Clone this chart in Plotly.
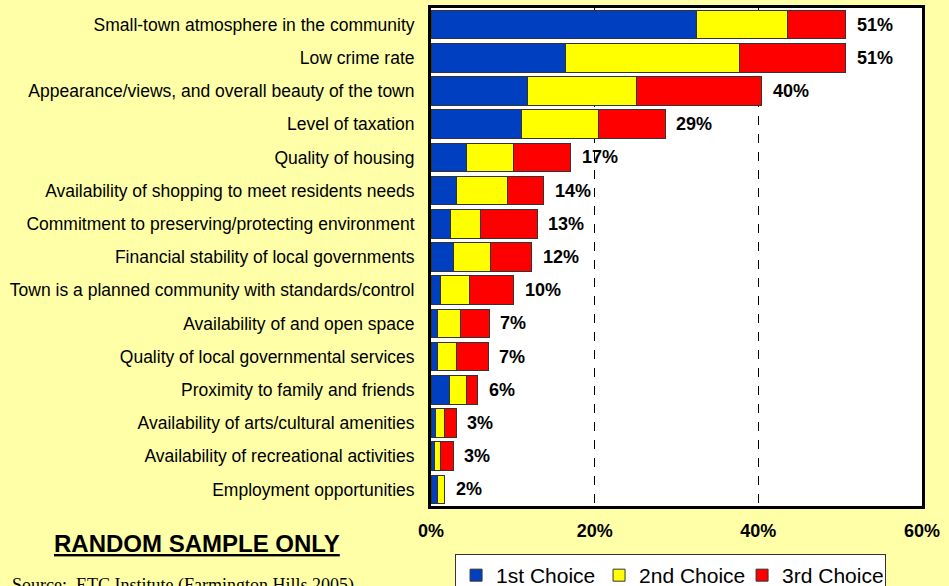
import plotly.graph_objects as go

# Survey items, listed top to bottom
categories = [
    "Small-town atmosphere in the community",
    "Low crime rate",
    "Appearance/views, and overall beauty of the town",
    "Level of taxation",
    "Quality of housing",
    "Availability of shopping to meet residents needs",
    "Commitment to preserving/protecting environment",
    "Financial stability of local governments",
    "Town is a planned community with standards/control",
    "Availability of and open space",
    "Quality of local governmental services",
    "Proximity to family and friends",
    "Availability of arts/cultural amenities",
    "Availability of recreational activities",
    "Employment opportunities",
]

# Percent of respondents choosing each item
first_choice = [32.4, 16.4, 11.8, 11.0, 4.3, 3.1, 2.4, 2.8, 1.2, 0.8, 0.8, 2.2, 0.6, 0.4, 0.8]
second_choice = [11.2, 21.3, 13.3, 9.5, 5.8, 6.2, 3.6, 4.5, 3.5, 2.8, 2.3, 2.1, 1.0, 0.7, 0.9]
third_choice = [7.1, 13.0, 15.3, 8.1, 7.0, 4.5, 7.0, 5.0, 5.4, 3.5, 3.9, 1.4, 1.5, 1.6, 0.0]

series_names = ["1st Choice", "2nd Choice", "3rd Choice"]
series_colors = ["#0040C0", "#FFFF00", "#FF0000"]

x_ticks = [0, 20, 40, 60]
x_tick_labels = ["0%", "20%", "40%", "60%"]

totals = [a + b + c for a, b, c in zip(first_choice, second_choice, third_choice)]

fig = go.Figure()
for name, vals, col in zip(series_names, [first_choice, second_choice, third_choice], series_colors):
    fig.add_trace(go.Bar(
        y=categories, x=vals, name=name, orientation="h",
        marker=dict(color=col, line=dict(color="#333333", width=1)),
    ))

# Total labels at the end of each stacked bar
for cat, tot in zip(categories, totals):
    fig.add_annotation(
        x=tot, y=cat, xref="x", yref="y",
        text="<b>%d%%</b>" % int(tot + 0.5),
        showarrow=False, xanchor="left", xshift=9,
        font=dict(family="Liberation Sans, Arial", size=18, color="black"),
    )

fig.add_annotation(
    x=-0.4766, y=-0.075, xref="paper", yref="paper",
    text="<b><u>RANDOM SAMPLE ONLY</u></b>",
    showarrow=False, xanchor="center", yanchor="middle",
    font=dict(family="Liberation Sans, Arial", size=24, color="black"),
)
fig.add_annotation(
    x=-0.857, y=-0.1345, xref="paper", yref="paper",
    text="Source:  ETC Institute (Farmington Hills 2005)",
    showarrow=False, xanchor="left", yanchor="top",
    font=dict(family="Liberation Serif, Times New Roman", size=18, color="black"),
)

fig.update_layout(
    barmode="stack",
    bargap=0.135,
    width=949, height=586,
    margin=dict(l=431, r=27, t=8, b=80, autoexpand=False),
    paper_bgcolor="#FFFFA8",
    plot_bgcolor="white",
    font=dict(family="Liberation Sans, Arial", color="black"),
    legend=dict(
        orientation="h", x=0.049, y=-0.0964, xanchor="left", yanchor="top",
        bgcolor="white", bordercolor="#333333", borderwidth=1,
        font=dict(family="Liberation Sans, Arial", size=21, color="black"),
        traceorder="normal", entrywidth=98, entrywidthmode="pixels",
    ),
    xaxis=dict(
        range=[0, 60], tickvals=x_ticks, ticktext=["<b>%s</b>" % t for t in x_tick_labels],
        tickfont=dict(size=18, color="black"),
        showgrid=True, gridcolor="black", griddash="dash", gridwidth=1,
        zeroline=False, showline=True, linecolor="black", linewidth=3, mirror=True,
        ticks="", ticklabelstandoff=6,
    ),
    yaxis=dict(
        autorange="reversed", categoryorder="array", categoryarray=categories,
        tickfont=dict(size=17.5, color="black"),
        showgrid=False, zeroline=False,
        showline=True, linecolor="black", linewidth=3, mirror=True,
        ticks="", ticklabelstandoff=10,
    ),
)

fig.write_html("out.html")
